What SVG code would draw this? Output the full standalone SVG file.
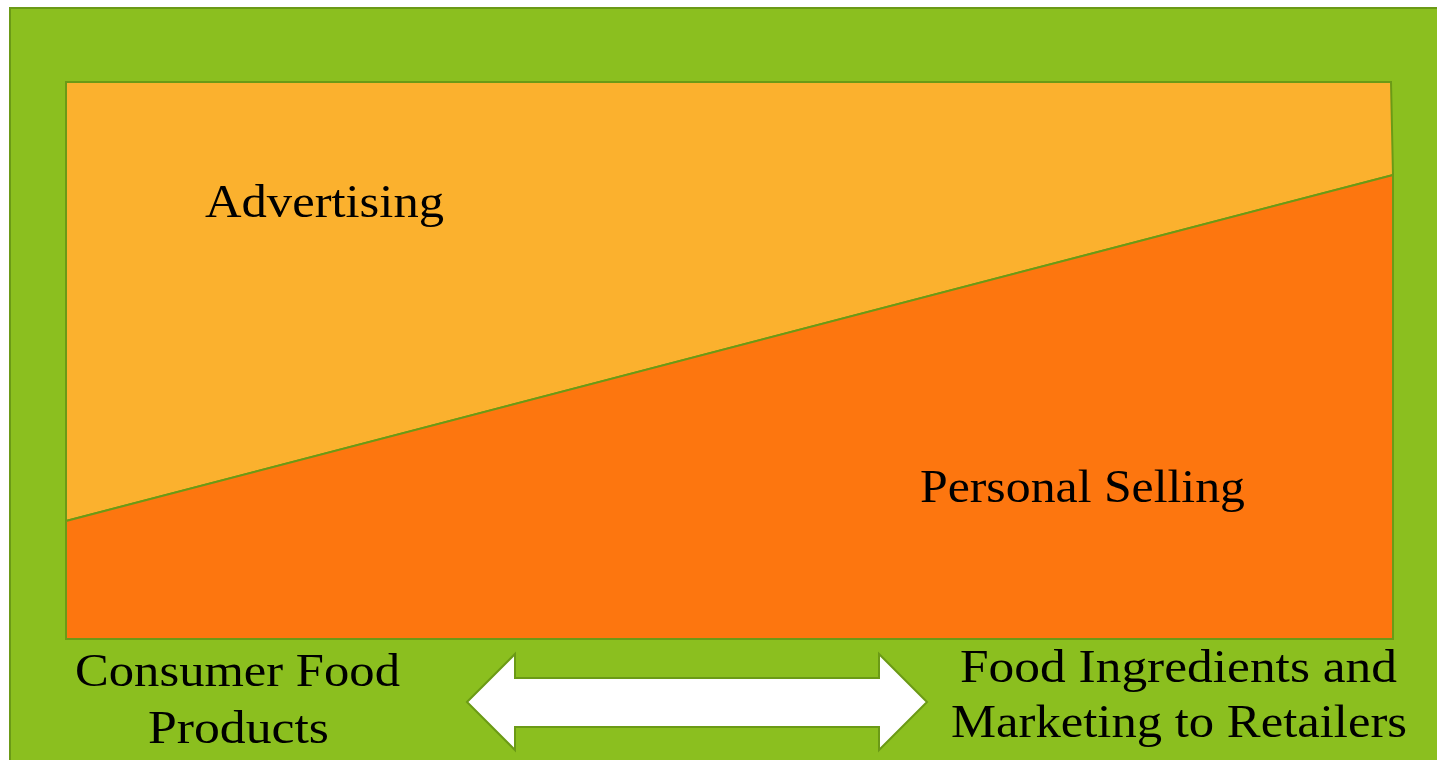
<svg xmlns="http://www.w3.org/2000/svg" width="1437" height="760" viewBox="0 0 1437 760">
<style>
.lbl{font-family:"Liberation Serif","DejaVu Serif",serif;font-size:47px;fill:#000}
.edge{stroke:#6B9A16;stroke-width:2;stroke-linejoin:miter}
</style>
<rect x="0" y="0" width="1437" height="760" fill="#FFFFFF"/>
<g id="background">
<rect x="10" y="8" width="1440" height="770" fill="#8BBF1F" class="edge"/>
</g>
<g id="advertising">
<polygon points="66,82 1391,82 1393,175 66,521" fill="#FBB12E" class="edge"/>
<text class="lbl" x="205" y="217" textLength="239" lengthAdjust="spacingAndGlyphs">Advertising</text>
</g>
<g id="personal-selling">
<polygon points="66,521 1393,175 1393,639 66,639" fill="#FD760F" class="edge"/>
<text class="lbl" x="920" y="502" textLength="325" lengthAdjust="spacingAndGlyphs">Personal Selling</text>
</g>
<g id="connectors">
<polygon points="467,702 515,654 515,678 879,678 879,654 927,702 879,750 879,727 515,727 515,750" fill="#FFFFFF" class="edge"/>
</g>
<g id="consumer">
<text class="lbl" x="75" y="686" textLength="325" lengthAdjust="spacingAndGlyphs">Consumer Food</text>
<text class="lbl" x="148" y="743" textLength="181" lengthAdjust="spacingAndGlyphs">Products</text>
</g>
<g id="ingredients">
<text class="lbl" x="960" y="682" textLength="437" lengthAdjust="spacingAndGlyphs">Food Ingredients and</text>
<text class="lbl" x="951" y="737" textLength="456" lengthAdjust="spacingAndGlyphs">Marketing to Retailers</text>
</g>
</svg>
